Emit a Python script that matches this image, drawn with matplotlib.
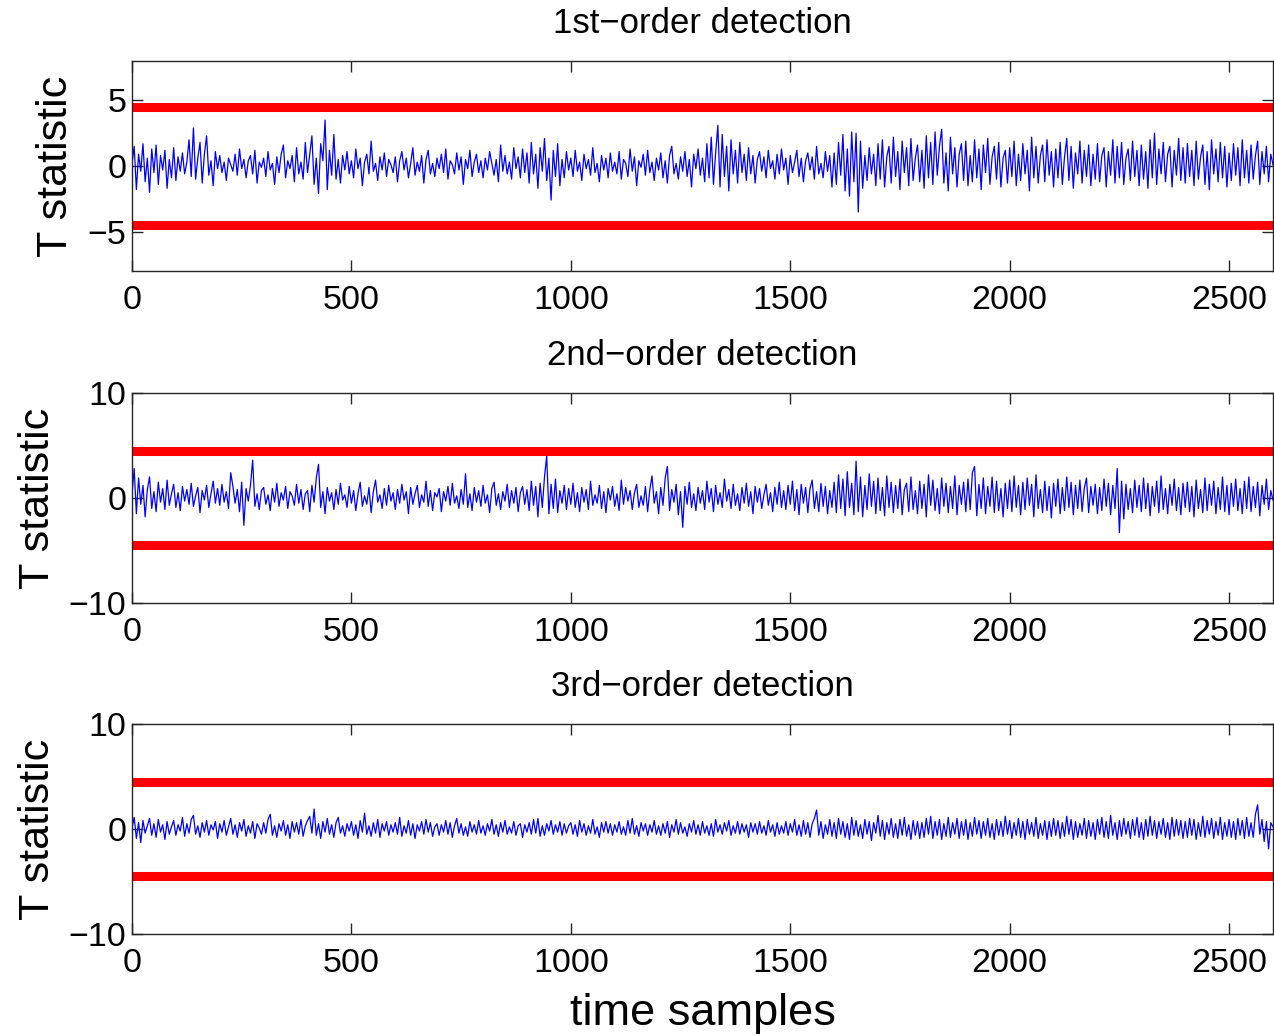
import numpy as np
import matplotlib
matplotlib.use('Agg')
import matplotlib.pyplot as plt

plt.rcParams['font.family'] = ['Liberation Sans', 'DejaVu Sans']

# T statistic traces, one value every 5 samples (20 values = 100 samples per row)
t_first = [
    0.2, 1.5, -1.8, 0.9, -0.4, 1.7, -1.2, 0.6, -2.0, 1.3, -0.5, 1.6, -1.4, 0.8, -0.3, 1.2, -1.7, 0.5, -0.9, 1.4,
    -1.1, 0.7, -0.4, 1.0, -0.6, 0.3, 2.0, -0.8, 2.9, -1.0, 0.6, 1.8, -1.3, 0.9, 2.3, -0.7, 0.4, -1.5, 1.1, -0.2,
    0.8, -0.5, 0.3, -1.1, 0.6, 0.1, -0.4, 0.9, -0.7, 1.3, -0.2, 0.5, -0.9, 0.4, 0.8, -0.6, 1.2, -1.3, 0.3, -0.1,
    0.6, -0.8, 1.1, -0.3, 0.2, -1.4, 0.7, -0.5, 0.9, 1.6, -0.9, 0.4, -0.2, 0.8, -1.2, 1.4, -0.6, 0.3, -1.0, 1.8,
    -0.5, 0.9, 2.3, -1.4, 0.6, -2.1, 1.7, 0.4, 3.5, -1.8, 1.2, -0.7, 2.4, -1.0, 0.5, -1.3, 0.8, -0.3, 1.1, -0.6,
    0.4, -0.9, 1.3, -0.2, 0.6, -1.5, 0.3, 0.9, -0.6, 1.9, -0.4, 0.2, -1.1, 0.7, -0.3, 1.0, -0.8, 0.5, 0.1, -0.5,
    0.7, -1.2, 0.4, 1.1, -0.3, 0.6, -0.9, 0.2, 1.4, -0.7, 0.3, -0.4, 0.8, -1.3, 0.5, 1.2, -0.6, 0.2, -0.8, 0.6,
    -0.2, 0.9, -0.5, 1.3, -1.0, 0.4, 0.1, -0.6, 1.0, -0.3, 0.7, -1.4, 0.5, -0.2, 1.2, -0.8, 0.3, 0.9, -0.5, 0.4,
    -0.9, 0.6, -0.3, 1.1, 0.2, -0.7, 0.5, -1.2, 1.6, -0.4, 0.8, -0.6, 0.3, -1.0, 1.4, -0.2, 0.7, -0.9, 1.3, -0.5,
    1.0, -1.3, 1.8, -0.6, 0.9, -1.7, 1.4, -0.4, 2.1, -1.1, 0.6, -2.6, 1.2, -0.8, 1.7, -1.5, 0.5, -0.9, 1.1, -0.3,
    0.6, -0.8, 1.2, -0.4, 0.3, -1.1, 0.9, -0.2, 0.5, -0.7, 1.4, -0.5, 0.2, -1.2, 0.8, -0.3, 0.6, -0.9, 1.0, -0.4,
    0.3, -0.6, 1.1, -1.0, 0.5, 0.2, -0.8, 1.3, -0.4, 0.7, -1.5, 0.4, -0.1, 0.9, -0.7, 1.2, -0.5, 0.3, -1.1, 0.6,
    -0.3, 1.0, -0.9, 0.4, -1.3, 0.8, 1.5, -0.6, 0.2, -1.0, 0.7, -0.4, 1.1, -0.8, 0.5, -1.6, 0.9, -0.2, 1.3, -0.7,
    0.6, -1.2, 1.7, -0.9, 2.2, -1.4, 1.0, 3.1, -1.6, 2.4, -0.8, 1.5, -1.9, 2.0, -0.6, 1.2, -1.3, 1.8, -0.5, 0.9,
    -1.1, 1.4, -0.6, 0.8, -1.3, 0.5, 1.1, -0.4, 0.7, -0.9, 1.2, -0.2, 0.4, -1.0, 0.9, -0.6, 1.3, -0.3, 0.6, -1.4,
    0.8, -0.5, 0.3, 1.2, -0.8, 0.6, -1.2, 0.4, 1.0, -0.3, 0.7, -1.0, 1.5, -0.6, 0.2, -0.9, 1.1, -0.4, 0.8, -1.6,
    1.0, -1.4, 1.8, -0.7, 2.4, -1.9, 1.3, -2.3, 2.6, -1.2, 2.5, -3.5, 1.9, -1.7, 0.8, -1.1, 1.4, -0.6, 0.9, -1.5,
    1.7, -1.0, 2.0, -1.6, 0.7, 1.5, -1.3, 2.2, -0.8, 1.1, -1.8, 1.9, -0.5, 1.4, -1.5, 2.1, -1.1, 0.6, 1.6, -1.2,
    1.2, -1.7, 2.3, -0.9, 1.8, -1.4, 2.6, -0.7, 1.5, 2.8, -1.3, 1.0, -1.9, 2.2, -0.6, 1.4, -1.6, 0.9, 1.7, -1.1,
    1.9, -1.5, 0.8, -1.2, 2.0, -0.9, 1.3, -1.8, 1.6, -0.5, 2.1, -1.4, 0.7, 1.5, -1.0, 1.8, -1.6, 0.6, 1.2, -1.3,
    1.4, -0.8, 1.9, -1.5, 0.9, -1.1, 1.7, -0.6, 1.2, -1.9, 2.2, -0.9, 1.5, -1.3, 0.8, 1.6, -1.2, 2.0, -0.7, 1.1,
    -1.6, 1.3, -0.9, 1.8, -1.4, 0.7, 2.1, -1.1, 1.5, -1.7, 1.0, -0.6, 1.9, -1.3, 1.2, -0.8, 1.6, -1.5, 0.9, -1.0,
    1.7, -1.2, 0.8, 1.4, -1.6, 1.1, -0.7, 2.0, -1.3, 1.5, -0.9, 1.8, -1.4, 0.6, 1.3, -1.1, 1.9, -0.8, 1.2, -1.5,
    1.6, -1.0, 1.1, -1.7, 2.0, -0.9, 2.5, -1.4, 1.3, -0.6, 1.8, -1.2, 0.9, 1.5, -1.6, 1.2, -0.7, 2.1, -1.1, 1.4,
    -1.3, 1.7, -0.8, 1.2, -1.5, 1.9, -1.0, 0.7, 1.6, -1.4, 1.1, -1.8, 2.0, -0.6, 1.3, -1.2, 1.8, -0.9, 1.5, -1.6,
    1.0, -1.1, 1.7, -0.7, 1.4, -1.5, 2.0, -0.9, 1.2, -1.3, 1.6, -1.0, 0.8, 1.9, -1.4, 1.1, -0.6, 1.5, -1.2, 0.9,
    0.1,
]

t_second = [
    0.3, 2.8, -1.5, 1.9, -0.6, 1.2, -1.8, 0.8, 2.0, -1.0, 0.6, -1.3, 1.5, -0.4, 0.9, -1.1, 1.7, -0.7, 0.4, 1.3,
    -0.9, 0.5, -1.2, 1.1, -0.3, 0.8, -0.6, 1.4, -0.8, 0.2, 1.0, -1.4, 0.7, -0.2, 1.2, -0.9, 0.4, 1.6, -0.5, 0.9,
    -0.7, 1.3, -0.4, 0.6, -1.0, 2.4, 1.1, -0.5, 0.8, -1.3, 1.5, -2.6, 0.9, -0.3, 1.2, 3.6, -0.8, 0.4, -1.1, 0.7,
    1.0, -0.6, 0.3, -1.2, 0.9, -0.4, 1.4, -0.8, 0.5, -0.2, 1.1, -1.0, 0.6, 0.2, -0.7, 1.3, -0.5, 0.8, -1.1, 0.4,
    0.7, -1.3, 1.2, -0.4, 1.9, 3.2, -0.9, 0.6, -1.5, 1.0, -0.3, 0.5, -1.1, 0.8, -0.6, 1.4, -0.2, 0.3, -0.9, 1.1,
    -0.5, 0.7, -1.2, 0.4, 1.5, -0.8, 0.2, -0.6, 1.0, -1.4, 0.6, 1.7, -0.4, 0.3, -1.0, 0.9, -0.7, 1.2, -0.3, 0.5,
    -1.1, 0.8, -0.5, 1.3, -0.2, 0.6, -1.5, 1.0, -0.6, 0.4, 1.2, -0.9, 0.3, -0.4, 1.6, -0.8, 0.7, -1.2, 0.5, 0.1,
    0.9, -1.3, 0.6, -0.3, 1.1, -0.7, 1.4, -0.5, 0.2, -1.0, 0.8, -0.6, 2.3, -0.9, 0.4, -1.2, 1.0, -0.4, 0.7, -0.8,
    1.2, -0.5, 0.3, -1.4, 0.9, 1.5, -0.7, 0.4, -1.1, 0.6, -0.3, 1.3, -0.9, 0.7, -0.5, 1.0, -1.3, 0.5, 1.1, -0.6,
    0.8, -1.2, 1.6, -0.7, 1.1, -1.8, 1.4, -0.9, 2.0, 4.0, -1.5, 1.3, -1.0, 1.8, -1.4, 0.7, -0.5, 1.2, -1.1, 0.9,
    -0.6, 1.4, -0.9, 0.5, -1.3, 1.0, -0.4, 0.8, -1.1, 1.6, -0.7, 0.3, -0.5, 1.2, -1.0, 0.6, -1.4, 0.9, -0.2, 1.1,
    -0.8, 0.4, -1.2, 1.7, -0.6, 1.0, -0.3, 0.7, -1.1, 0.5, 1.3, -0.9, 0.2, -0.7, 1.1, -1.3, 0.8, 2.1, -0.5, 0.6,
    -1.5, 1.0, -0.7, 1.9, 3.0, -1.2, 0.8, -0.4, 1.3, -1.6, 0.6, -2.8, 1.1, -0.6, 1.5, -0.9, 0.4, -1.2, 1.0, -0.5,
    0.7, -1.1, 1.6, -0.4, 0.9, -1.3, 1.2, -0.6, 0.5, -0.9, 1.8, -0.3, 0.8, -1.0, 1.3, -0.7, 0.4, -1.2, 1.0, -0.5,
    1.4, -0.8, 0.6, -1.5, 1.1, -0.4, 0.9, -1.0, 0.3, 1.3, -0.7, 0.5, -1.3, 1.0, -0.6, 1.5, -0.9, 0.7, -1.1, 1.2,
    -0.6, 1.6, -1.2, 0.8, -1.6, 1.3, -0.5, 1.0, -1.4, 0.9, 1.7, -1.0, 0.6, -1.3, 1.4, -0.8, 1.1, -1.5, 0.7, -0.9,
    1.5, -1.4, 2.2, -1.0, 1.8, -1.7, 2.5, -0.9, 1.4, -1.6, 3.5, -1.3, 2.0, -1.8, 1.2, -1.1, 2.3, -0.8, 1.6, -1.5,
    1.9, -1.2, 1.0, -1.7, 2.1, -0.9, 1.5, -1.4, 1.2, -1.0, 1.8, -1.6, 0.8, 1.4, -1.3, 2.0, -1.1, 0.7, -1.5, 1.6,
    -1.0, 1.3, -1.8, 2.2, -0.7, 1.7, -1.2, 0.9, -1.5, 1.9, -0.8, 1.4, -1.4, 1.1, -1.0, 2.1, -1.6, 1.2, -0.6, 1.5,
    -1.3, 1.8, -1.1, 2.4, 3.0, -1.7, 1.3, -1.0, 1.9, -1.5, 1.1, -0.8, 2.0, -1.4, 1.6, -1.2, 0.9, -1.8, 1.4, -1.0,
    1.7, -1.3, 2.1, -0.9, 1.2, -1.6, 1.5, -1.1, 1.9, -0.7, 1.3, -1.8, 2.2, -1.0, 0.8, -1.4, 1.6, -1.2, 1.1, -1.9,
    1.4, -0.8, 1.8, -1.5, 1.0, -1.2, 2.0, -0.9, 1.5, -1.6, 1.2, -1.0, 1.7, -1.3, 0.9, 1.9, -1.4, 1.1, -0.7, 1.3,
    -1.5, 1.0, -1.2, 1.8, -0.8, 1.4, -1.6, 1.2, -1.0, 2.8, -3.3, 1.6, -2.0, 1.3, -1.1, 0.9, -1.4, 1.7, -0.9, 1.2,
    -1.3, 1.9, -1.0, 1.4, -1.7, 1.1, -0.8, 1.6, -1.4, 2.1, -1.1, 0.9, -1.5, 1.3, -0.7, 1.8, -1.2, 1.0, -1.6, 1.4,
    -0.9, 1.5, -1.3, 1.1, -1.8, 1.7, -1.0, 0.8, -1.4, 1.9, -1.2, 1.3, -0.7, 1.6, -1.5, 1.0, -1.1, 2.0, -1.3, 1.2,
    -1.6, 1.4, -0.8, 1.8, -1.2, 0.9, -1.5, 1.6, -1.0, 2.0, -1.3, 1.1, -0.9, 1.5, -1.7, 1.2, -0.6, 1.8, -1.1, 0.7,
    -0.2,
]

t_third = [
    0.1, 1.1, -0.9, 0.6, -1.3, 0.8, -0.4, 0.3, 1.0, -0.6, 0.5, -0.8, 0.9, -0.3, 0.4, -1.0, 0.7, -0.5, 0.2, 0.8,
    -0.6, 0.4, -0.2, 1.1, -0.7, 0.5, -0.4, 0.9, 1.3, -0.5, 0.3, -0.8, 0.6, -0.3, 0.8, -0.6, 0.4, -0.1, 0.7, -0.9,
    0.5, -0.3, 0.8, -0.6, 0.2, 1.0, -0.5, 0.4, -0.8, 0.6, -0.2, 0.9, -0.7, 0.3, -0.4, 0.7, -0.9, 0.5, 0.1, -0.5,
    0.6, -0.4, 0.9, 1.4, -0.6, 0.3, -0.8, 0.5, -0.2, 0.8, -0.6, 0.4, -0.9, 0.7, -0.3, 0.6, -0.5, 0.9, -0.7, 0.3,
    0.8, 1.2, -0.4, 1.9, -0.6, 0.5, -0.9, 0.7, -0.3, 1.0, -0.5, 0.4, -0.8, 0.6, 1.1, -0.4, 0.3, -0.7, 0.5, -0.2,
    0.7, -0.6, 0.4, -0.9, 0.8, -0.3, 1.5, -0.5, 0.3, -0.7, 0.6, -0.4, 0.9, -0.8, 0.5, -0.2, 0.7, -0.6, 0.4, -0.3,
    0.6, -0.5, 1.1, -0.7, 0.3, -0.4, 0.8, -0.6, 0.5, -0.9, 0.4, -0.2, 0.7, -0.5, 0.9, -0.3, 0.6, -0.7, 0.2, 0.5,
    -0.6, 0.4, -0.3, 0.8, -0.5, 0.6, -0.8, 0.3, 1.0, -0.4, 0.5, -0.6, 0.2, -0.7, 0.7, -0.3, 0.4, -0.5, 0.8, -0.4,
    0.3, -0.6, 0.5, -0.2, 0.9, -0.5, 0.4, -0.7, 0.6, -0.3, 0.8, -0.5, 0.2, -0.4, 0.7, -0.6, 0.3, 0.5, -0.8, 0.4,
    -0.3, 0.6, -0.5, 0.9, -0.4, 1.0, -0.7, 0.3, -0.6, 0.5, -0.2, 0.8, -0.5, 0.4, -0.3, 0.7, -0.6, 0.5, -0.4, 0.3,
    0.6, -0.5, 0.4, -0.7, 0.8, -0.3, 0.5, -0.6, 0.3, -0.4, 0.9, -0.5, 0.2, -0.8, 0.6, -0.3, 0.7, -0.4, 0.5, -0.6,
    0.4, -0.3, 0.7, -0.5, 0.2, -0.6, 0.8, -0.4, 1.0, -0.5, 0.3, -0.7, 0.6, -0.2, 0.5, -0.6, 0.4, -0.3, 0.8, -0.5,
    0.3, -0.6, 0.5, -0.4, 0.7, -0.8, 0.4, -0.3, 0.9, -0.5, 0.6, -0.4, 0.2, -0.7, 0.5, -0.3, 0.8, -0.5, 0.4, -0.6,
    0.7, -0.4, 0.3, -0.6, 0.5, -0.7, 0.9, -0.3, 0.4, -0.5, 0.6, -0.2, 0.8, -0.6, 0.3, -0.4, 0.7, -0.5, 0.5, -0.3,
    0.4, -0.8, 0.6, -0.3, 0.5, -0.5, 0.7, -0.4, 0.3, -0.6, 0.8, -0.3, 0.4, -0.7, 0.6, -0.5, 0.3, -0.4, 0.7, -0.6,
    0.5, -0.3, 0.9, -0.6, 0.4, -0.7, 0.8, -0.5, 0.6, -0.8, 0.5, 1.0, 1.8, -0.6, 0.7, -0.9, 0.4, -0.5, 0.9, -0.7,
    0.6, -0.9, 1.0, -0.5, 0.7, -0.8, 0.5, -1.0, 1.1, -0.6, 0.8, -0.7, 0.4, -0.9, 0.9, -0.5, 0.7, -1.1, 0.6, -0.4,
    1.3, -0.7, 0.8, -1.0, 0.6, -0.5, 1.0, -0.8, 0.5, -0.9, 0.9, -0.6, 1.1, -0.7, 0.4, -1.0, 0.8, -0.6, 0.7, -0.9,
    0.6, -0.8, 1.0, -0.5, 1.2, -0.9, 0.7, -0.6, 0.9, -1.0, 0.5, -0.7, 1.1, -0.8, 0.6, -0.5, 1.0, -0.9, 0.7, -0.6,
    0.9, -1.0, 0.6, -0.7, 1.1, -0.5, 0.8, -0.9, 0.7, -0.6, 1.0, -0.8, 0.5, -1.0, 0.9, -0.6, 0.7, -0.7, 1.2, -0.5,
    0.8, -0.9, 0.6, -0.6, 1.0, -0.8, 0.7, -1.0, 0.9, -0.5, 0.6, -0.7, 1.1, -0.9, 0.5, -0.6, 0.8, -1.0, 0.7, -0.7,
    1.0, -0.6, 0.8, -0.9, 0.6, -0.7, 1.2, -0.5, 0.9, -1.0, 0.7, -0.8, 0.5, -0.6, 1.0, -0.9, 0.8, -0.7, 0.6, -1.0,
    0.9, -0.5, 1.1, -0.8, 0.7, -0.9, 1.3, -0.6, 0.6, -1.0, 0.8, -0.7, 1.0, -0.5, 0.7, -0.9, 0.9, -0.6, 1.1, -0.8,
    0.6, -1.0, 0.9, -0.7, 1.2, -0.6, 0.8, -0.9, 0.7, -0.5, 1.0, -0.8, 0.6, -1.0, 1.1, -0.7, 0.9, -0.6, 0.8, -0.9,
    0.7, -0.8, 1.0, -0.6, 0.9, -1.0, 0.6, -0.7, 1.2, -0.8, 0.8, -0.5, 1.0, -0.9, 0.7, -0.6, 1.1, -1.0, 0.6, -0.7,
    0.9, -0.8, 0.7, -1.0, 1.0, -0.6, 0.8, -0.9, 1.1, -0.7, 0.6, -0.8, 1.4, 2.3, -0.5, 0.9, -1.2, 0.7, -1.9, 0.6,
    0.2,
]

titles = ['1st\u2212order detection', '2nd\u2212order detection', '3rd\u2212order detection']
traces = [t_first, t_second, t_third]
ylims = [(-8, 8), (-10, 10), (-10, 10)]
yticks = [[-5, 0, 5], [-10, 0, 10], [-10, 0, 10]]
upper_thr = [4.5, 4.5, 4.5]
lower_thr = [-4.5, -4.5, -4.5]
step = 5
xmax = 2600

fig = plt.figure(figsize=(12.74, 10.36), dpi=100)
tops = [0.9411, 0.6207, 0.3012]
h = 0.2027

for k in range(3):
    ax = fig.add_axes([0.1036, tops[k] - h, 0.8956, h])
    vals = np.array(traces[k])
    xs = np.arange(len(vals)) * step
    ax.plot(xs, vals, color=(0, 0, 1), lw=0.9)
    ax.axhline(upper_thr[k], color=(1, 0, 0), lw=6.5)
    ax.axhline(lower_thr[k], color=(1, 0, 0), lw=6.5)
    ax.set_xlim(0, xmax)
    ax.set_ylim(*ylims[k])
    ax.set_xticks([0, 500, 1000, 1500, 2000, 2500])
    ax.set_yticks(yticks[k])
    ax.tick_params(direction='in', length=8, width=1, top=True, right=True,
                   labelsize=24.5, colors='#262626', labelcolor='black')
    ax.tick_params(axis='x', pad=10)
    ax.tick_params(axis='y', pad=4)
    for sp in ax.spines.values():
        sp.set_color('#262626')
        sp.set_linewidth(1)
    ax.set_title(titles[k], fontsize=25, pad=20)
    ax.set_ylabel('T statistic', fontsize=31, labelpad=8)

ax.set_xlabel('time samples', fontsize=32.5, labelpad=10)

fig.savefig('out.png', dpi=100)
